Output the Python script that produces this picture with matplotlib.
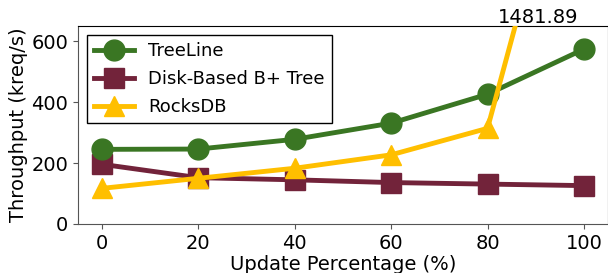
import matplotlib
matplotlib.use("Agg")
import matplotlib.pyplot as plt

update_pct = [0, 20, 40, 60, 80, 100]
treeline = [245, 246, 278, 331, 426, 574]
btree = [196, 152, 145, 136, 131, 126]
rocksdb = [117, 150, 183, 227, 314, 1481.89]
series_labels = ["TreeLine", "Disk-Based B+ Tree", "RocksDB"]
colors = ["#3a7623", "#72233a", "#ffbf00"]

fig = plt.figure(figsize=(6.08, 2.73), dpi=100)
ax = fig.add_axes([0.128, 0.1795, 0.872, 0.7253])

ax.plot(update_pct, treeline, marker="o", color=colors[0], lw=3.5, ms=15, label=series_labels[0], zorder=3)
ax.plot(update_pct, btree, marker="s", color=colors[1], lw=3.5, ms=15, label=series_labels[1], zorder=2)
ax.plot(update_pct, rocksdb, marker="^", color=colors[2], lw=3.5, ms=15, label=series_labels[2], zorder=4)

ax.set_xlim(-5, 105)
ax.set_ylim(0, 650)
ax.set_xticks(update_pct)
ax.set_yticks([0, 200, 400, 600])
ax.tick_params(labelsize=14, color="#555555")
for s in ["left", "bottom"]:
    ax.spines[s].set_color("#555555")
ax.set_xlabel("Update Percentage (%)", fontsize=14, labelpad=2)
ax.set_ylabel("Throughput (kreq/s)", fontsize=14, labelpad=2)

ax.text(90.5, 646, f"{rocksdb[-1]:.2f}", fontsize=14, ha="center", va="bottom", clip_on=False)

leg = ax.legend(loc="upper left", fontsize=13, fancybox=False, edgecolor="black",
                framealpha=1, borderaxespad=0.5, handlelength=2.2, labelspacing=0.55,
                borderpad=0.4)
leg.get_frame().set_linewidth(1.0)

fig.savefig("out.png", dpi=100)
